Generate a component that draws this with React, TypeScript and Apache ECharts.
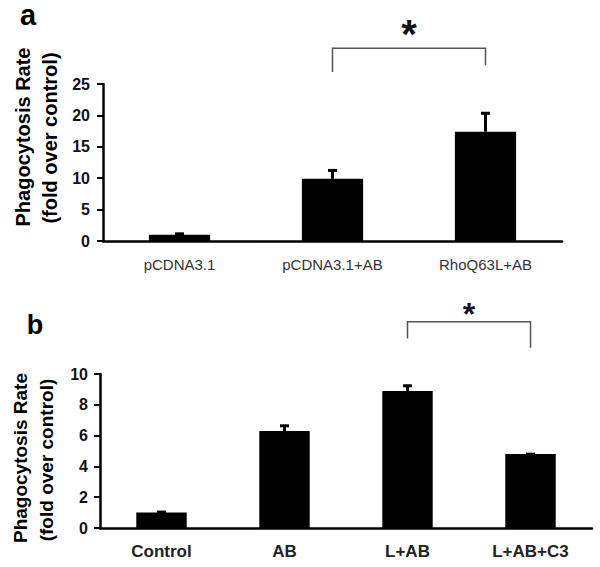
import React, { useEffect, useRef } from "react";
import * as echarts from "echarts";

const catsA = ["pCDNA3.1", "pCDNA3.1+AB", "RhoQ63L+AB"];
const valsA = [1.0, 9.9, 17.4];
const errA = [0.3, 1.5, 3.1];
const ticksA = { min: 0, max: 25, interval: 5 };
// bracket: [fromIdx, toIdx, top, leftLegEnd, rightLegEnd, starY]
const bracketA = [1, 2, 30.7, 26.9, 28.0, 33.0];

const catsB = ["Control", "AB", "L+AB", "L+AB+C3"];
const valsB = [1.0, 6.3, 8.9, 4.8];
const errB = [0.1, 0.4, 0.4, 0.06];
const ticksB = { min: 0, max: 10, interval: 2 };
const bracketB = [2, 3, 13.4, 12.3, 11.7, 13.9];

const titleLine1 = "Phagocytosis Rate";
const titleLine2 = "(fold over control)";

const FONT = "'Liberation Sans', Arial, sans-serif";

function errorRender(params: any, api: any) {
  const x = api.value(0);
  const v = api.value(1);
  const e = api.value(2);
  const base = api.coord([x, v]);
  const top = api.coord([x, v + e]);
  return {
    type: "group",
    children: [
      { type: "line", shape: { x1: base[0], y1: base[1], x2: top[0], y2: top[1] }, style: { stroke: "#000", lineWidth: 3 } },
      { type: "line", shape: { x1: top[0] - 4.5, y1: top[1] + 1, x2: top[0] + 4.5, y2: top[1] + 1 }, style: { stroke: "#000", lineWidth: 3 } },
    ],
  };
}

function bracketRender(starSize: number) {
  return (params: any, api: any) => {
    const i1 = api.value(0);
    const i2 = api.value(1);
    const yTop = api.value(2);
    const yL = api.value(3);
    const yR = api.value(4);
    const yS = api.value(5);
    const pTL = api.coord([i1, yTop]);
    const pTR = api.coord([i2, yTop]);
    const pL = api.coord([i1, yL]);
    const pR = api.coord([i2, yR]);
    const pS = api.coord([i1, yS]);
    const pS2 = api.coord([i2, yS]);
    return {
      type: "group",
      children: [
        {
          type: "polyline",
          shape: { points: [[pL[0], pL[1]], [pTL[0], pTL[1]], [pTR[0], pTR[1]], [pR[0], pR[1]]] },
          style: { stroke: "#555", lineWidth: 1.5, fill: "none" },
        },
        {
          type: "text",
          x: (pS[0] + pS2[0]) / 2,
          y: pS[1],
          style: {
            text: "*",
            fontFamily: FONT,
            fontWeight: "bold",
            fontSize: starSize,
            fill: "#111",
            align: "center",
            verticalAlign: "middle",
          },
        },
      ],
    };
  };
}

export default function App() {
  const ref = useRef<HTMLDivElement>(null);
  useEffect(() => {
    document.body.style.margin = "0";
    const chart = echarts.init(ref.current!, null, { renderer: "svg" });
    const axisLine = { show: true, lineStyle: { color: "#000", width: 2.5 } };
    const option: any = {
      animation: false,
      backgroundColor: "#fff",
      grid: [
        { left: 103, right: 38, top: 84, height: 157 },
        { left: 100, right: 8, top: 374, height: 154 },
      ],
      xAxis: [
        {
          type: "category",
          gridIndex: 0,
          data: catsA,
          axisLine,
          axisTick: { show: false },
          axisLabel: { margin: 16, fontFamily: FONT, fontSize: 15, color: "#333" },
        },
        {
          type: "category",
          gridIndex: 1,
          data: catsB,
          axisLine,
          axisTick: { show: false },
          axisLabel: { margin: 15, fontFamily: FONT, fontSize: 17, fontWeight: "bold", color: "#222" },
        },
      ],
      yAxis: [
        {
          type: "value",
          gridIndex: 0,
          ...ticksA,
          axisLine,
          axisTick: { show: true, length: 6, lineStyle: { color: "#000", width: 2 } },
          splitLine: { show: false },
          axisLabel: { margin: 13, fontFamily: FONT, fontSize: 16, fontWeight: "bold", color: "#111" },
        },
        {
          type: "value",
          gridIndex: 1,
          ...ticksB,
          axisLine,
          axisTick: { show: true, length: 6, lineStyle: { color: "#000", width: 2 } },
          splitLine: { show: false },
          axisLabel: { margin: 12, fontFamily: FONT, fontSize: 16, fontWeight: "bold", color: "#111" },
        },
      ],
      series: [
        { type: "bar", xAxisIndex: 0, yAxisIndex: 0, data: valsA, barWidth: "40%", itemStyle: { color: "#000" } },
        {
          type: "custom",
          xAxisIndex: 0,
          yAxisIndex: 0,
          data: valsA.map((v, i) => [i, v, errA[i]]),
          renderItem: errorRender,
          z: 3,
        },
        {
          type: "custom",
          xAxisIndex: 0,
          yAxisIndex: 0,
          clip: false,
          data: [bracketA],
          renderItem: bracketRender(40),
        },
        { type: "bar", xAxisIndex: 1, yAxisIndex: 1, data: valsB, barWidth: "41%", itemStyle: { color: "#000" } },
        {
          type: "custom",
          xAxisIndex: 1,
          yAxisIndex: 1,
          data: valsB.map((v, i) => [i, v, errB[i]]),
          renderItem: errorRender,
          z: 3,
        },
        {
          type: "custom",
          xAxisIndex: 1,
          yAxisIndex: 1,
          clip: false,
          data: [bracketB],
          renderItem: bracketRender(32),
        },
      ],
      graphic: [
        { type: "text", x: 28, y: 15, style: { text: "a", fontFamily: FONT, fontWeight: "bold", fontSize: 29, fill: "#000", align: "center", verticalAlign: "middle" } },
        { type: "text", x: 35, y: 325, style: { text: "b", fontFamily: FONT, fontWeight: "bold", fontSize: 27, fill: "#000", align: "center", verticalAlign: "middle" } },
        { type: "text", x: 23, y: 137, rotation: Math.PI / 2, style: { text: titleLine1, fontFamily: FONT, fontWeight: "bold", fontSize: 20, fill: "#000", align: "center", verticalAlign: "middle" } },
        { type: "text", x: 50, y: 138, rotation: Math.PI / 2, style: { text: titleLine2, fontFamily: FONT, fontWeight: "bold", fontSize: 20, fill: "#000", align: "center", verticalAlign: "middle" } },
        { type: "text", x: 20, y: 458, rotation: Math.PI / 2, style: { text: titleLine1, fontFamily: FONT, fontWeight: "bold", fontSize: 19, fill: "#000", align: "center", verticalAlign: "middle" } },
        { type: "text", x: 46, y: 460, rotation: Math.PI / 2, style: { text: titleLine2, fontFamily: FONT, fontWeight: "bold", fontSize: 19, fill: "#000", align: "center", verticalAlign: "middle" } },
      ],
    };
    chart.setOption(option);
    return () => chart.dispose();
  }, []);
  return <div ref={ref} style={{ width: 600, height: 567 }} />;
}
